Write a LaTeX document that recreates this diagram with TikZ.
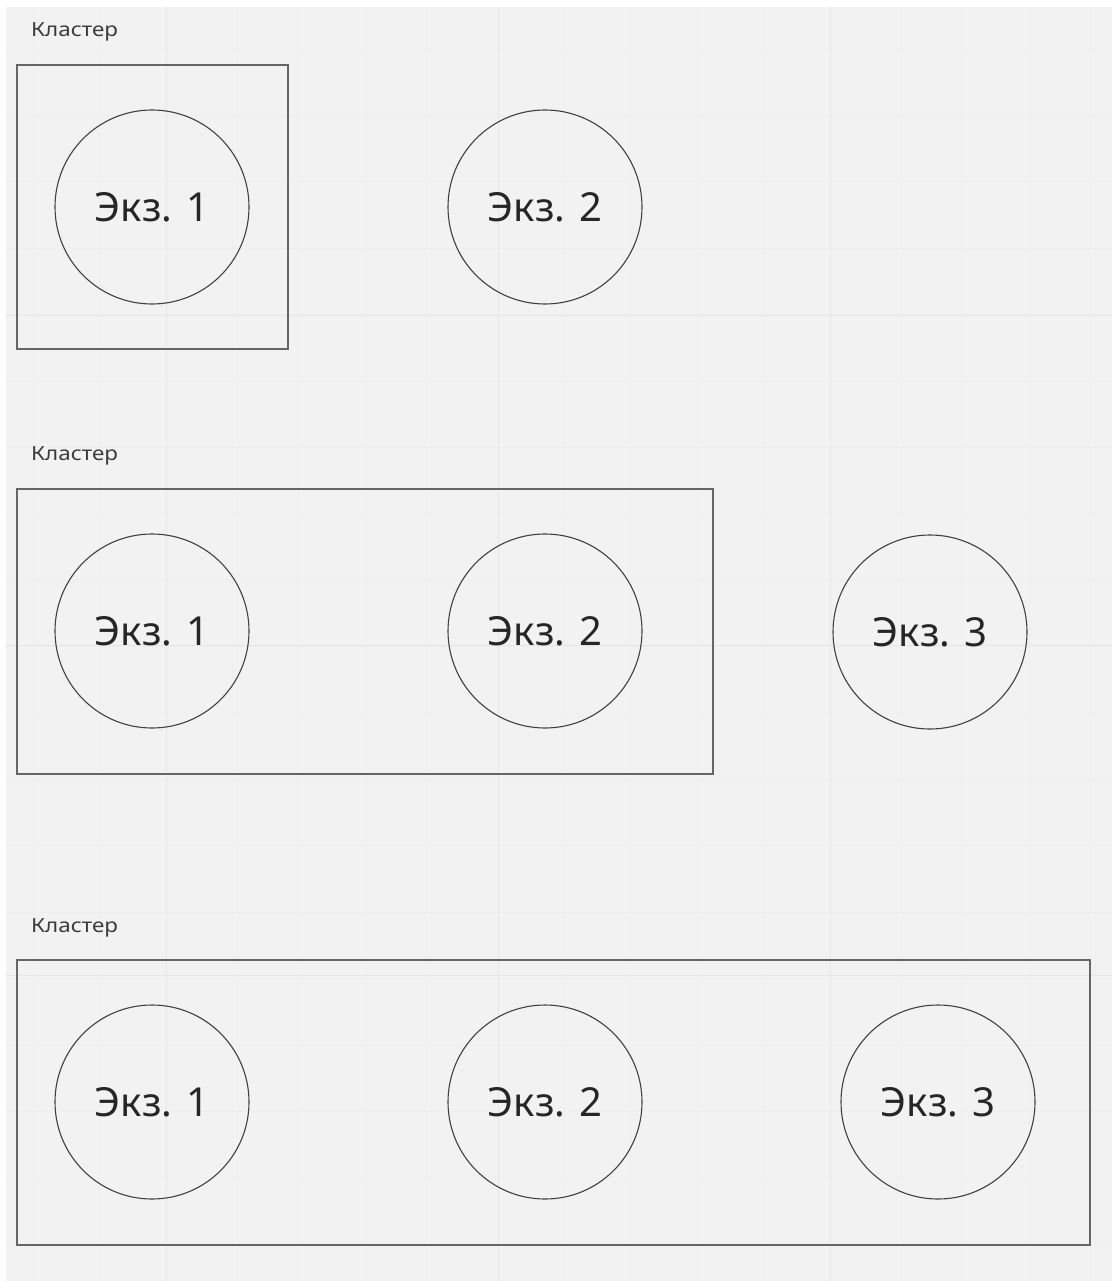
\documentclass[tikz,border=0pt]{standalone}
\usepackage{fontspec}
\setmainfont{Noto Sans}
\newfontfamily\labelfont[FakeStretch=1.15]{Noto Sans}
\definecolor{bg}{HTML}{F2F2F2}
\definecolor{minorgrid}{HTML}{EFEFEF}
\definecolor{majorgrid}{HTML}{E6E6E6}
\definecolor{boxline}{HTML}{666666}
\definecolor{circline}{HTML}{404040}
\definecolor{txt}{HTML}{262626}
\begin{document}
\begin{tikzpicture}[x=1pt,y=-1pt,
  cluster/.style={draw=boxline,line width=1.8pt},
  inst/.style={circle,draw=circline,line width=1.1pt,minimum size=194pt,inner sep=0pt,font=\fontsize{40}{48}\selectfont,text=txt},
  clabel/.style={anchor=west,inner sep=0pt,font=\labelfont\fontsize{19.5}{22}\selectfont,text=txt!90}]
\useasboundingbox (0,0) rectangle (1112,1281);
\fill[white] (0,0) rectangle (1112,1281);
\fill[bg] (6,7) rectangle (1112,1281);
% grid
\foreach \gx in {33.2,99.6,...,1112} {\draw[minorgrid,line width=0.8pt] (\gx,7) -- (\gx,1281);}
\foreach \gy in {49,115.4,...,1281} {\draw[minorgrid,line width=0.8pt] (6,\gy) -- (1112,\gy);}
\foreach \gx in {166,498,830} {\draw[majorgrid,line width=1pt] (\gx,7) -- (\gx,1281);}
\foreach \gy in {315,645,975} {\draw[majorgrid,line width=1pt] (6,\gy) -- (1112,\gy);}
% row 1
\node[clabel] (l1) at (31,32) {Кластер};
\draw[cluster] (17,65) rectangle (288,349);
\node[inst] (a1) at (152,207) {Экз. 1};
\node[inst] (a2) at (545,207) {Экз. 2};
% row 2
\node[clabel] (l2) at (31,456) {Кластер};
\draw[cluster] (17,489) rectangle (713,774);
\node[inst] (b1) at (152,631) {Экз. 1};
\node[inst] (b2) at (545,631) {Экз. 2};
\node[inst] (b3) at (930,632) {Экз. 3};
% row 3
\node[clabel] (l3) at (31,928) {Кластер};
\draw[cluster] (17,960) rectangle (1090,1245);
\node[inst] (c1) at (152,1102) {Экз. 1};
\node[inst] (c2) at (545,1102) {Экз. 2};
\node[inst] (c3) at (938,1102) {Экз. 3};
\end{tikzpicture}
\end{document}
